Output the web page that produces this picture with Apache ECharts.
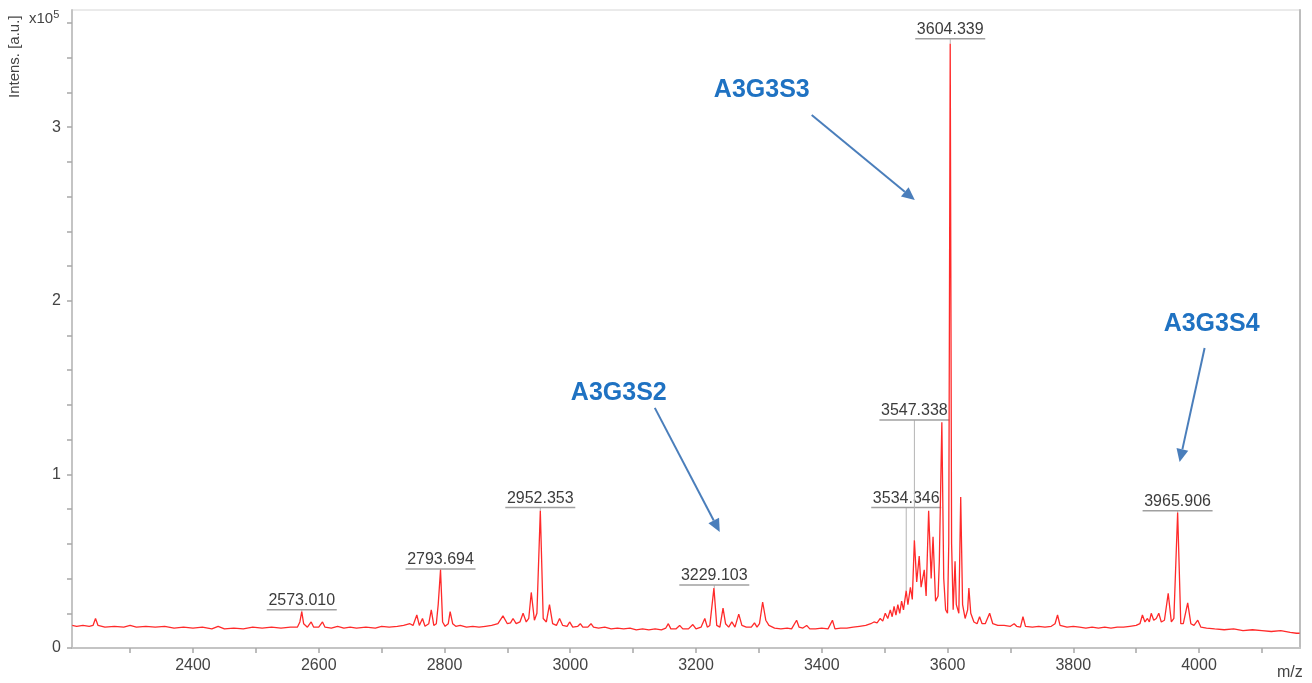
<!DOCTYPE html>
<html>
<head>
<meta charset="utf-8">
<script src="https://cdn.jsdelivr.net/npm/echarts@6/dist/echarts.min.js"></script>
<style>
html,body{margin:0;padding:0;background:#fff;}
#c{width:1312px;height:683px;}
</style>
</head>
<body>
<div id="c"></div>
<script>
// m/z values of the spectrum trace
const mz = [2208,2215,2225,2235,2241,2245,2249,2260,2275,2290,2300,2310,2325,2340,2355,2370,2385,2400,2415,2430,2440,2450,2465,2480,2495,2510,2525,2540,2555,2566,2570,2573,2576,2582,2588,2592,2600,2606,2610,2620,2630,2640,2650,2660,2675,2690,2700,2712,2725,2735,2745,2750,2756,2760,2765,2769,2775,2779,2783,2787,2790,2793.7,2797,2801,2806,2809,2813,2818,2825,2835,2845,2855,2865,2875,2885,2893,2900,2905,2909,2914,2920,2925,2930,2934,2938,2943,2947,2952.4,2957,2962,2967,2972,2978,2983,2988,2995,2999,3004,3012,3016,3020,3028,3033,3037,3045,3055,3065,3075,3085,3095,3105,3115,3125,3135,3145,3152,3156,3160,3168,3174,3179,3188,3195,3200,3208,3214,3218,3222,3228.5,3233,3238,3243,3247,3252,3257,3262,3268,3273,3280,3288,3293,3297,3301,3306,3311,3316,3325,3335,3345,3352,3360,3364,3370,3376,3381,3390,3400,3410,3417,3421,3430,3440,3450,3460,3470,3478,3483,3488,3493,3497,3501,3505,3509,3512,3515,3518,3521,3524,3527,3530,3534.3,3537,3541,3544,3547.3,3551,3555,3558,3563,3566,3570,3574,3577,3581,3585,3587,3591,3594,3597,3600,3602,3604.3,3606.5,3609,3612,3614,3618,3621,3624,3628,3632,3634,3637,3642,3647,3651,3655,3660,3667,3672,3680,3690,3700,3706,3710,3716,3720,3724,3735,3745,3755,3765,3771,3775,3779,3790,3800,3810,3820,3830,3840,3850,3860,3870,3880,3890,3900,3906,3910,3914,3918,3921,3924,3928,3932,3936,3940,3945,3951,3956,3960,3966,3971,3975,3982,3987,3992,3998,4003,4012,4025,4040,4055,4070,4085,4100,4115,4130,4145,4155,4160];
// intensities in units of 1e5 a.u.
const intens = [0.13,0.125,0.13,0.125,0.13,0.17,0.13,0.12,0.125,0.12,0.13,0.12,0.125,0.12,0.125,0.115,0.12,0.115,0.12,0.11,0.125,0.11,0.115,0.11,0.12,0.115,0.12,0.115,0.12,0.12,0.15,0.21,0.14,0.12,0.15,0.12,0.12,0.15,0.12,0.115,0.125,0.115,0.12,0.115,0.12,0.115,0.125,0.12,0.125,0.13,0.14,0.13,0.19,0.13,0.17,0.125,0.14,0.22,0.13,0.14,0.25,0.45,0.15,0.125,0.14,0.21,0.14,0.125,0.13,0.12,0.125,0.12,0.125,0.13,0.14,0.185,0.14,0.145,0.17,0.14,0.15,0.20,0.15,0.17,0.32,0.16,0.2,0.79,0.17,0.15,0.25,0.14,0.13,0.17,0.13,0.125,0.15,0.12,0.125,0.14,0.12,0.12,0.14,0.12,0.115,0.12,0.11,0.115,0.11,0.115,0.105,0.11,0.105,0.11,0.105,0.115,0.14,0.11,0.11,0.13,0.11,0.11,0.135,0.11,0.12,0.17,0.12,0.13,0.345,0.13,0.12,0.23,0.14,0.12,0.15,0.12,0.195,0.13,0.12,0.12,0.145,0.12,0.14,0.265,0.16,0.13,0.115,0.11,0.115,0.11,0.16,0.12,0.115,0.13,0.11,0.11,0.115,0.11,0.16,0.11,0.115,0.115,0.12,0.125,0.13,0.14,0.15,0.145,0.17,0.155,0.2,0.17,0.22,0.18,0.24,0.19,0.25,0.2,0.27,0.22,0.33,0.25,0.35,0.28,0.62,0.38,0.53,0.35,0.45,0.3,0.79,0.4,0.64,0.27,0.3,0.5,1.3,0.4,0.22,0.2,0.6,3.48,0.6,0.22,0.5,0.25,0.2,0.87,0.25,0.17,0.22,0.345,0.2,0.15,0.14,0.18,0.14,0.14,0.2,0.14,0.13,0.13,0.125,0.14,0.125,0.12,0.18,0.125,0.12,0.125,0.12,0.125,0.14,0.19,0.13,0.12,0.125,0.12,0.115,0.12,0.115,0.12,0.115,0.12,0.12,0.125,0.13,0.14,0.19,0.15,0.17,0.15,0.2,0.16,0.17,0.2,0.15,0.16,0.315,0.15,0.17,0.78,0.14,0.14,0.26,0.14,0.13,0.16,0.12,0.115,0.11,0.105,0.11,0.1,0.105,0.1,0.095,0.1,0.09,0.085,0.085];

// annotated peaks
const peakText = ['2573.010','2793.694','2952.353','3229.103','3534.346','3547.338','3604.339','3965.906'];
const peakMz =   [2573.01, 2793.694, 2952.353, 3229.103, 3534.346, 3547.338, 3604.339, 3965.906];
const peakTop =  [0.21, 0.45, 0.79, 0.345, 0.33, 0.62, 3.48, 0.78];
const peakLabelLevel = [0.22, 0.455, 0.81, 0.363, 0.81, 1.313, 3.51, 0.79];

// glycan annotations (text position and arrow start/end)
const glyText = ['A3G3S3','A3G3S2','A3G3S4'];
const glyTextPos = [[3304.6,3.214],[3077.2,1.469],[4020,1.866]];
const glyArrow = [[3384,3.07,3548,2.58],[3134.5,1.383,3237.8,0.668],[4008.9,1.728,3969.1,1.071]];

// axis ticks and labels
const xTicks = [2300,2400,2500,2600,2700,2800,2900,3000,3100,3200,3300,3400,3500,3600,3700,3800,3900,4000,4100];
const xLabels = [2400,2600,2800,3000,3200,3400,3600,3800,4000];
const yTicks = [0,0.2,0.4,0.6,0.8,1,1.2,1.4,1.6,1.8,2,2.2,2.4,2.6,2.8,3,3.2,3.4,3.6];
const yLabels = [0,1,2,3];

const chart = echarts.init(document.getElementById('c'), null, {renderer:'canvas'});
const spectrum = mz.map((m,i)=>[m,intens[i]]);
const peakData = peakMz.map((m,i)=>[m,peakTop[i],peakLabelLevel[i]]);
const glyTextData = glyTextPos.map(p=>[p[0],p[1]]);
const FONT = '"Liberation Sans", Arial, sans-serif';

const option = {
  animation:false,
  backgroundColor:'#fff',
  grid:{left:72,right:12,top:10,bottom:35,show:true,borderColor:'#d6d6d6',borderWidth:1},
  xAxis:{type:'value',min:2207.6,max:4160.6,
    axisLine:{show:true,onZero:false,lineStyle:{color:'#c4c4c4',width:2}},
    axisTick:{show:true,customValues:xTicks,length:5,lineStyle:{color:'#a8a8a8',width:1.5}},
    axisLabel:{customValues:xLabels,fontSize:16,color:'#444',margin:10,fontFamily:FONT,formatter:v=>String(v)},
    splitLine:{show:false}},
  yAxis:[{type:'value',min:0,max:3.675,
    axisLine:{show:true,lineStyle:{color:'#c4c4c4',width:2}},
    axisTick:{show:true,customValues:yTicks,length:5,lineStyle:{color:'#a8a8a8',width:1.5}},
    axisLabel:{customValues:yLabels,fontSize:16,color:'#444',margin:11,fontFamily:FONT,formatter:v=>String(v)},
    splitLine:{show:false}},
    {type:'value',min:0,max:3.675,position:'right',
    axisLine:{show:true,lineStyle:{color:'#bdbdbd',width:2}},
    axisTick:{show:false},axisLabel:{show:false},splitLine:{show:false}}],
  series:[
    {type:'custom',name:'peakLabels',z:1,
     renderItem:function(params,api){
       const i=params.dataIndex;
       const top=api.coord([api.value(0),api.value(1)]);
       const lab=api.coord([api.value(0),api.value(2)]);
       const hw=35;
       return {type:'group',children:[
         {type:'line',shape:{x1:lab[0],y1:lab[1],x2:top[0],y2:top[1]},style:{stroke:'#b5b5b5',lineWidth:1}},
         {type:'line',shape:{x1:lab[0]-hw,y1:lab[1],x2:lab[0]+hw,y2:lab[1]},style:{stroke:'#a0a0a0',lineWidth:1.5}},
         {type:'text',x:lab[0],y:lab[1]-1,style:{text:peakText[i],fill:'#3c3c3c',font:'16px '+FONT,textAlign:'center',textVerticalAlign:'bottom'}}
       ]};
     },
     encode:{x:0,y:[1,2]},data:peakData},
    {type:'line',name:'spectrum',z:3,data:spectrum,showSymbol:false,symbol:'none',
     lineStyle:{color:'#ff2a2a',width:1.3},clip:true},
    {type:'custom',name:'arrows',z:5,
     renderItem:function(params,api){
       const a=api.coord([api.value(0),api.value(1)]);
       const b=api.coord([api.value(2),api.value(3)]);
       const dx=b[0]-a[0],dy=b[1]-a[1];const L=Math.sqrt(dx*dx+dy*dy);
       const ux=dx/L,uy=dy/L;const hl=13,hw=6;
       const bx=b[0]-ux*hl,by=b[1]-uy*hl;
       return {type:'group',children:[
         {type:'line',shape:{x1:a[0],y1:a[1],x2:bx,y2:by},style:{stroke:'#4a7ebb',lineWidth:2}},
         {type:'polygon',shape:{points:[[b[0],b[1]],[bx-uy*hw,by+ux*hw],[bx+uy*hw,by-ux*hw]]},style:{fill:'#4a7ebb'}}
       ]};
     },
     encode:{x:[0,2],y:[1,3]},data:glyArrow},
    {type:'custom',name:'glycans',z:6,
     renderItem:function(params,api){
       const p=api.coord([api.value(0),api.value(1)]);
       return {type:'text',x:p[0],y:p[1],style:{text:glyText[params.dataIndex],fill:'#1f72c2',font:'bold 25px '+FONT,textAlign:'center',textVerticalAlign:'middle'}};
     },
     encode:{x:0,y:1},data:glyTextData}
  ],
  graphic:[
    {type:'text',rotation:Math.PI/2,x:7,y:98,style:{text:'Intens. [a.u.]',fill:'#444',font:'15px '+FONT}},
    {type:'text',left:29,top:9,style:{text:'{a|x10}{b|5}',rich:{a:{fontSize:15,fill:'#444',fontFamily:'Liberation Sans'},b:{fontSize:11,fill:'#444',fontFamily:'Liberation Sans',verticalAlign:'top',padding:[0,0,8,0]}}}},
    {type:'text',left:1277,top:665,style:{text:'m/z',fill:'#444',font:'16px '+FONT}}
  ]
};
chart.setOption(option);
</script>
</body>
</html>
